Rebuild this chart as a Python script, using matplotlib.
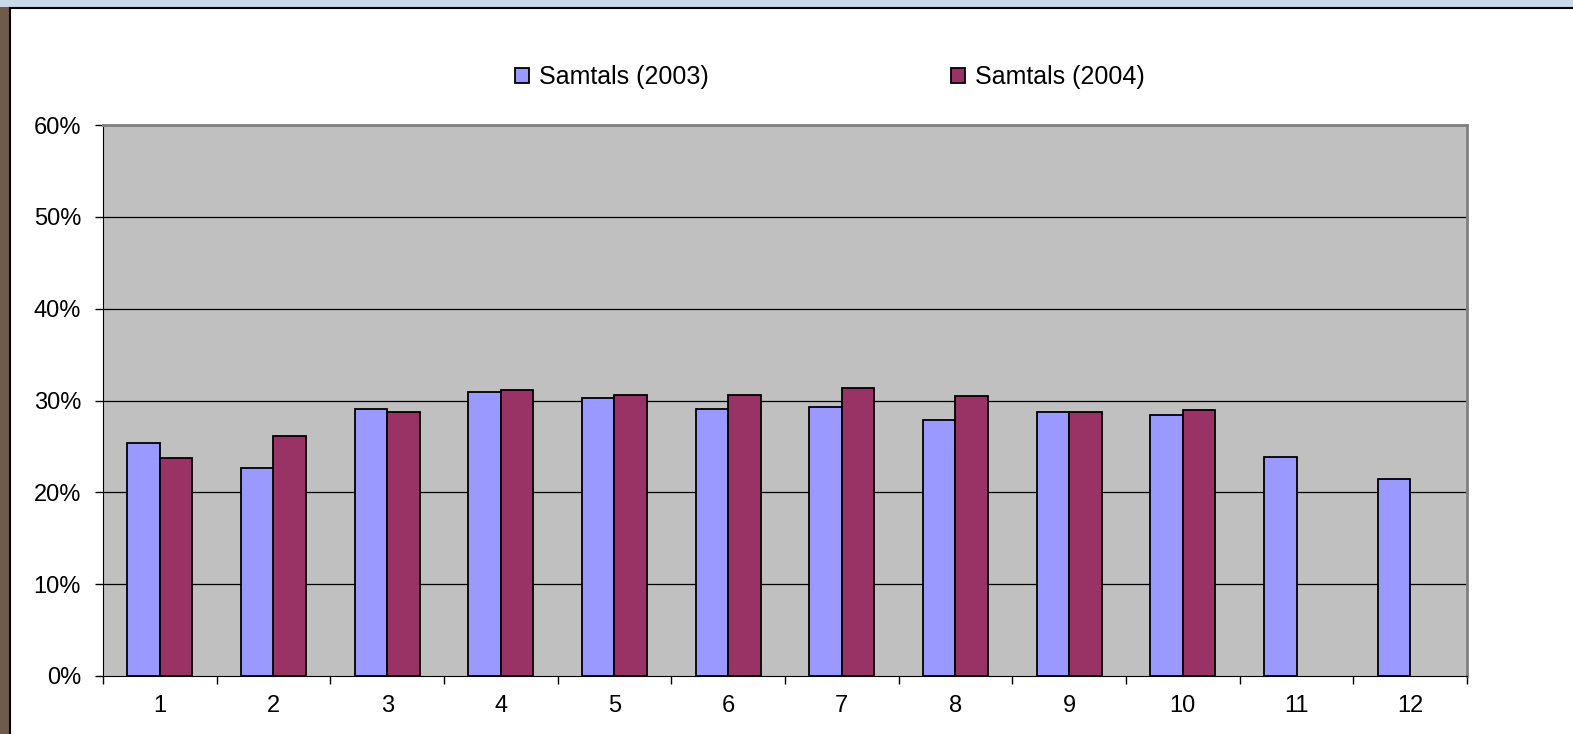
import numpy as np
import matplotlib
matplotlib.use('Agg')
import matplotlib.pyplot as plt
from matplotlib.patches import Rectangle
from matplotlib.ticker import FuncFormatter

plt.rcParams['font.family'] = ['Liberation Sans', 'DejaVu Sans']

months = ['1', '2', '3', '4', '5', '6', '7', '8', '9', '10', '11', '12']
samtals_2003 = [25.4, 22.7, 29.1, 30.9, 30.3, 29.1, 29.3, 27.9, 28.7, 28.4, 23.9, 21.4]
samtals_2004 = [23.7, 26.1, 28.8, 31.1, 30.6, 30.6, 31.4, 30.5, 28.8, 29.0]
labels = ['Samtals (2003)', 'Samtals (2004)']

fig = plt.figure(figsize=(15.73, 7.34), dpi=100)

# slide background bits: photo strip on the left, blue strip on top
fig.patches.append(Rectangle((0, 0), 10 / 1573, 1, transform=fig.transFigure,
                             facecolor='#6e5b4a', edgecolor='none', zorder=0))
fig.patches.append(Rectangle((0, 1 - 7 / 734), 1, 7 / 734, transform=fig.transFigure,
                             facecolor='#c9d9ea', edgecolor='none', zorder=0))
fig.add_artist(plt.Line2D([10 / 1573, 10 / 1573], [0, 1 - 8 / 734],
                          transform=fig.transFigure, color='black', lw=1.5))
fig.add_artist(plt.Line2D([10 / 1573, 1], [1 - 8 / 734, 1 - 8 / 734],
                          transform=fig.transFigure, color='black', lw=1.5))

ax = fig.add_axes([103 / 1573, 1 - 676 / 734, (1467 - 103) / 1573, (676 - 125) / 734])
ax.set_facecolor('#c0c0c0')

x = np.arange(len(months))
w = 1 / 3.5
b1 = ax.bar(x - w / 2, samtals_2003, w, color='#9999ff', edgecolor='black', linewidth=1.3, zorder=3)
b2 = ax.bar(np.arange(len(samtals_2004)) + w / 2, samtals_2004, w, color='#993366',
            edgecolor='black', linewidth=1.3, zorder=3)

ax.set_xlim(-0.5, len(months) - 0.5)
ax.set_ylim(0, 60)
ax.set_yticks(range(0, 61, 10))
ax.yaxis.set_major_formatter(FuncFormatter(lambda v, p: '%d%%' % v))
ax.set_xticks(x)
ax.set_xticklabels(months)
ax.set_xticks(np.arange(-0.5, len(months), 1), minor=True)
ax.tick_params(axis='x', which='major', length=0, pad=14, labelsize=17)
ax.tick_params(axis='x', which='minor', length=6, width=1, color='black', direction='out')
ax.tick_params(axis='y', length=5.8, width=1, pad=10, labelsize=17)

for v in range(10, 60, 10):
  ax.axhline(v, color='black', lw=0.9, zorder=1)

ax.spines['left'].set_color('black')
ax.spines['bottom'].set_color('black')
ax.spines['top'].set_color('#808080')
ax.spines['right'].set_color('#808080')
ax.spines['top'].set_linewidth(2)
ax.spines['right'].set_linewidth(2)

fig.legend([b1, b2], labels, loc='center', bbox_to_anchor=(830 / 1573, 1 - 77 / 734),
           ncol=2, frameon=False, fontsize=18, handlelength=0.56, handleheight=0.56,
           handletextpad=0.4, columnspacing=9.7)

fig.savefig('out.png', dpi=100)
